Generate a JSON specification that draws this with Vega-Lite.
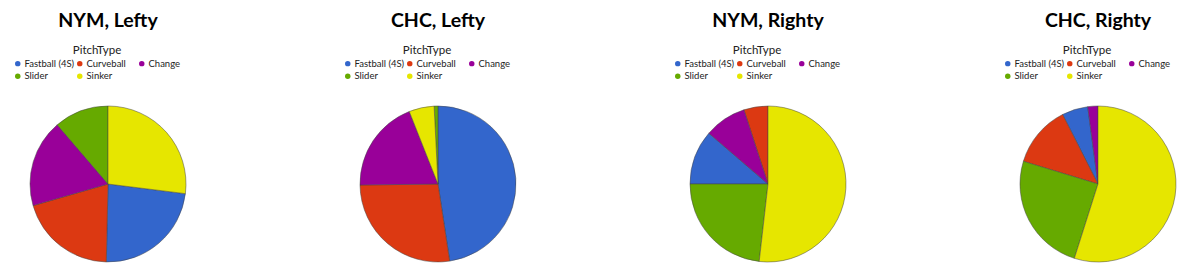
{
  "$schema": "https://vega.github.io/schema/vega-lite/v6.json",
  "padding": {"left": 13, "top": 10, "right": 2, "bottom": 4},
  "config": {
    "font": "Lato",
    "view": {"stroke": null},
    "concat": {"spacing": 140},
    "title": {"fontSize": 19.5, "font": "Lato", "fontWeight": "bold", "color": "#000", "anchor": "middle", "offset": 14},
    "legend": {
      "titleFont": "Lato", "titleFontSize": 11.5, "titleFontWeight": "normal", "titleColor": "#222",
      "labelFont": "Lato", "labelFontSize": 9.5, "labelColor": "#222",
      "symbolType": "circle", "symbolSize": 30, "symbolStrokeWidth": 0,
      "titleAnchor": "middle", "titlePadding": 2, "rowPadding": 2, "columnPadding": 0, "offset": 25, "labelOffset": 2,
      "gridAlign": "all"
    }
  },
  "datasets": {
    "pitches": [
      {"Panel": "NYM, Lefty", "PitchType": "Fastball (4S)", "Pct": 23.4},
      {"Panel": "NYM, Lefty", "PitchType": "Curveball", "Pct": 20.2},
      {"Panel": "NYM, Lefty", "PitchType": "Change", "Pct": 18.2},
      {"Panel": "NYM, Lefty", "PitchType": "Slider", "Pct": 11.3},
      {"Panel": "NYM, Lefty", "PitchType": "Sinker", "Pct": 27.0},
      {"Panel": "CHC, Lefty", "PitchType": "Fastball (4S)", "Pct": 47.6},
      {"Panel": "CHC, Lefty", "PitchType": "Curveball", "Pct": 27.2},
      {"Panel": "CHC, Lefty", "PitchType": "Change", "Pct": 19.2},
      {"Panel": "CHC, Lefty", "PitchType": "Slider", "Pct": 0.8},
      {"Panel": "CHC, Lefty", "PitchType": "Sinker", "Pct": 5.2},
      {"Panel": "NYM, Righty", "PitchType": "Fastball (4S)", "Pct": 11.3},
      {"Panel": "NYM, Righty", "PitchType": "Curveball", "Pct": 5.0},
      {"Panel": "NYM, Righty", "PitchType": "Change", "Pct": 8.7},
      {"Panel": "NYM, Righty", "PitchType": "Slider", "Pct": 23.2},
      {"Panel": "NYM, Righty", "PitchType": "Sinker", "Pct": 51.8},
      {"Panel": "CHC, Righty", "PitchType": "Fastball (4S)", "Pct": 5.4},
      {"Panel": "CHC, Righty", "PitchType": "Curveball", "Pct": 12.8},
      {"Panel": "CHC, Righty", "PitchType": "Change", "Pct": 2.1},
      {"Panel": "CHC, Righty", "PitchType": "Slider", "Pct": 24.8},
      {"Panel": "CHC, Righty", "PitchType": "Sinker", "Pct": 54.9}
    ]
  },
  "resolve": {"legend": {"color": "independent"}},
  "hconcat": [
    {
      "title": "NYM, Lefty",
      "width": 190, "height": 156,
      "data": {"name": "pitches"},
      "transform": [{"filter": "datum.Panel == 'NYM, Lefty'"}],
      "mark": {"type": "arc", "stroke": "#444", "strokeWidth": 0.5},
      "encoding": {
        "theta": {"field": "Pct", "type": "quantitative", "stack": true},
        "order": {"field": "Pct", "type": "quantitative", "sort": "descending"},
        "color": {"field": "PitchType", "type": "nominal",
          "scale": {"domain": ["Fastball (4S)", "Curveball", "Change", "Slider", "Sinker"], "range": ["#3366cc", "#dc3912", "#990099", "#66aa00", "#e6e600"]},
          "legend": {"orient": "top", "columns": 3, "title": "PitchType", "direction": "horizontal"}}
      }
    },
    {
      "title": "CHC, Lefty",
      "width": 190, "height": 156,
      "data": {"name": "pitches"},
      "transform": [{"filter": "datum.Panel == 'CHC, Lefty'"}],
      "mark": {"type": "arc", "stroke": "#444", "strokeWidth": 0.5},
      "encoding": {
        "theta": {"field": "Pct", "type": "quantitative", "stack": true},
        "order": {"field": "Pct", "type": "quantitative", "sort": "descending"},
        "color": {"field": "PitchType", "type": "nominal",
          "scale": {"domain": ["Fastball (4S)", "Curveball", "Change", "Slider", "Sinker"], "range": ["#3366cc", "#dc3912", "#990099", "#66aa00", "#e6e600"]},
          "legend": {"orient": "top", "columns": 3, "title": "PitchType", "direction": "horizontal"}}
      }
    },
    {
      "title": "NYM, Righty",
      "width": 190, "height": 156,
      "data": {"name": "pitches"},
      "transform": [{"filter": "datum.Panel == 'NYM, Righty'"}],
      "mark": {"type": "arc", "stroke": "#444", "strokeWidth": 0.5},
      "encoding": {
        "theta": {"field": "Pct", "type": "quantitative", "stack": true},
        "order": {"field": "Pct", "type": "quantitative", "sort": "descending"},
        "color": {"field": "PitchType", "type": "nominal",
          "scale": {"domain": ["Fastball (4S)", "Curveball", "Change", "Slider", "Sinker"], "range": ["#3366cc", "#dc3912", "#990099", "#66aa00", "#e6e600"]},
          "legend": {"orient": "top", "columns": 3, "title": "PitchType", "direction": "horizontal"}}
      }
    },
    {
      "title": "CHC, Righty",
      "width": 190, "height": 156,
      "data": {"name": "pitches"},
      "transform": [{"filter": "datum.Panel == 'CHC, Righty'"}],
      "mark": {"type": "arc", "stroke": "#444", "strokeWidth": 0.5},
      "encoding": {
        "theta": {"field": "Pct", "type": "quantitative", "stack": true},
        "order": {"field": "Pct", "type": "quantitative", "sort": "descending"},
        "color": {"field": "PitchType", "type": "nominal",
          "scale": {"domain": ["Fastball (4S)", "Curveball", "Change", "Slider", "Sinker"], "range": ["#3366cc", "#dc3912", "#990099", "#66aa00", "#e6e600"]},
          "legend": {"orient": "top", "columns": 3, "title": "PitchType", "direction": "horizontal"}}
      }
    }
  ]
}
